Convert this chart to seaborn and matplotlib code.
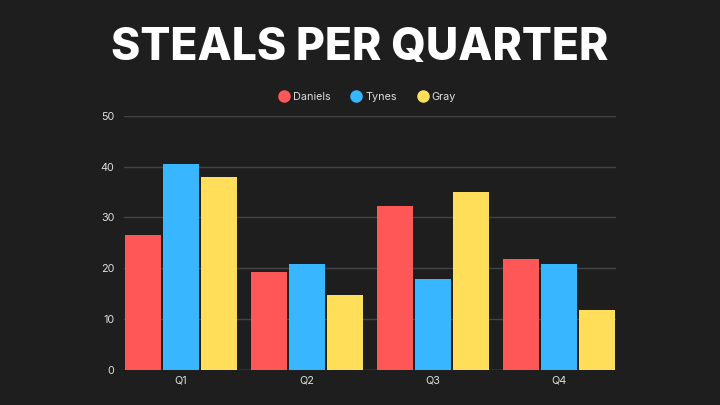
import pandas as pd
import seaborn as sns
import matplotlib.pyplot as plt
from matplotlib.lines import Line2D

# data
quarters = ["Q1", "Q2", "Q3", "Q4"]
daniels = [26.5, 19.2, 32.2, 21.8]
tynes = [40.5, 20.8, 17.8, 20.8]
gray = [38.0, 14.7, 35.1, 11.8]
players = ["Daniels", "Tynes", "Gray"]
colors = ["#FF5757", "#38B6FF", "#FFDE59"]

df = pd.DataFrame({"quarter": quarters * 3,
                   "steals": daniels + tynes + gray,
                   "player": [p for p in players for _ in quarters]})

bg = "#1E1E1E"
sns.set_theme(style="dark")
plt.rcParams["font.family"] = ["Inter", "DejaVu Sans"]

fig = plt.figure(figsize=(7.2, 4.05), dpi=100, facecolor=bg)
ax = fig.add_axes([124 / 720, 1 - 369.5 / 405, 492 / 720, 253.5 / 405])
ax.set_facecolor(bg)

sns.barplot(data=df, x="quarter", y="steals", hue="player",
            palette=colors, saturation=1, width=0.9, gap=0.05, ax=ax,
            edgecolor="none", legend=False, zorder=3)

ax.set_xlim(-0.45, 3.45)
ax.set_ylim(0, 50)
ax.set_yticks([0, 10, 20, 30, 40, 50])
ax.yaxis.grid(True, color="#444444", linewidth=1, zorder=0)
ax.xaxis.grid(False)
for s in ax.spines.values():
    s.set_visible(False)
ax.axhline(0, color="#555555", linewidth=1, zorder=2)
ax.set_xlabel("")
ax.set_ylabel("")
ax.tick_params(axis="both", colors="#DDDDDD", labelsize=7.8, length=0)
ax.tick_params(axis="y", pad=7)
ax.tick_params(axis="x", pad=4)

fig.text(0.5, 1 - 48 / 405, "STEALS PER QUARTER", ha="center", va="center",
         color="white", fontsize=32, fontweight="heavy")

handles = [Line2D([], [], marker="o", linestyle="", markersize=8,
                  markerfacecolor=c, markeredgecolor=c) for c in colors]
fig.legend(handles, players, loc="center", bbox_to_anchor=(0.51, 1 - 97 / 405),
           ncol=3, frameon=False, fontsize=7.8, labelcolor="#DDDDDD",
           handletextpad=0.3, columnspacing=1.9, handlelength=1.0)

fig.savefig("out.png", dpi=100, facecolor=bg)
